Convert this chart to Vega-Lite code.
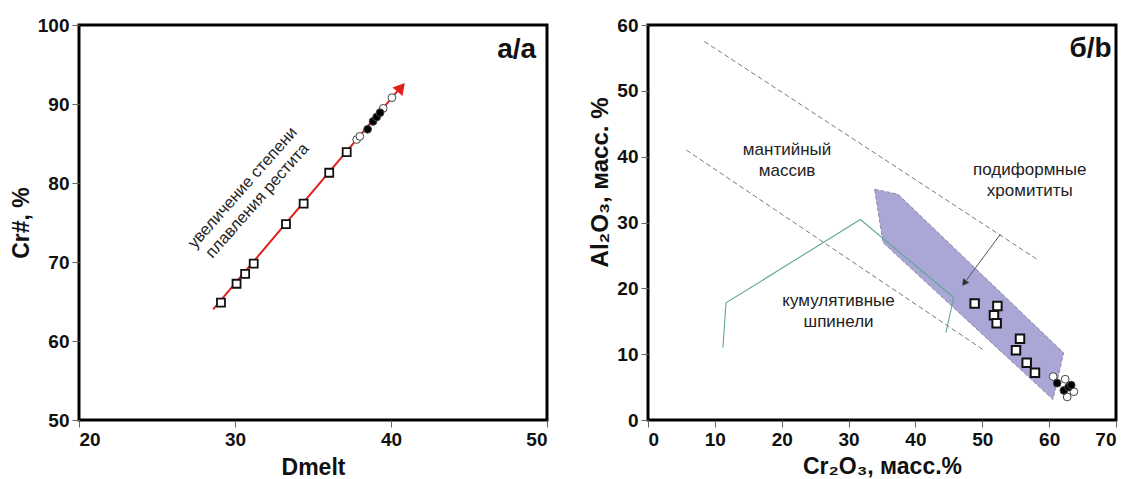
{
  "$schema": "https://vega.github.io/schema/vega-lite/v6.json",
  "background": "white",
  "padding": {"left": 8, "top": 14, "right": 5, "bottom": 0},
  "spacing": 38,
  "config": {
    "font": "Liberation Sans",
    "view": {"stroke": "black", "strokeWidth": 3},
    "axis": {"grid": false, "domain": false, "labelFont": "Liberation Sans", "labelFontWeight": "bold", "labelFontSize": 19, "labelColor": "#111", "titleFont": "Liberation Sans", "titleFontWeight": "bold", "titleFontSize": 23, "titleColor": "#111", "tickColor": "#666", "tickSize": 7, "tickWidth": 1, "labelPadding": 3, "titlePadding": 4}
  },
  "datasets": {
    "leftLine": [{"x": 28.6, "y": 64.0}, {"x": 40.4, "y": 91.6}],
    "leftHead": [{"x": 40.65, "y": 92.1}],
    "leftSquares": [
      {"x": 29.1, "y": 64.85}, {"x": 30.1, "y": 67.25}, {"x": 30.65, "y": 68.5}, {"x": 31.2, "y": 69.8},
      {"x": 33.27, "y": 74.8}, {"x": 34.4, "y": 77.4}, {"x": 36.04, "y": 81.3}, {"x": 37.16, "y": 83.9}
    ],
    "leftCircles": [
      {"x": 37.8, "y": 85.5, "kind": "open"}, {"x": 38.0, "y": 85.9, "kind": "open"},
      {"x": 39.5, "y": 89.45, "kind": "open"}, {"x": 40.06, "y": 90.8, "kind": "open"},
      {"x": 38.5, "y": 86.8, "kind": "black"}, {"x": 38.85, "y": 87.8, "kind": "black"},
      {"x": 39.08, "y": 88.35, "kind": "black"}, {"x": 39.3, "y": 88.9, "kind": "black"}
    ],
    "leftNote": [{"x": 30.49, "y": 79.4, "label": "увеличение степени\nплавления рестита"}],
    "leftTag": [{"x": 49.3, "y": 95.8, "label": "a/a"}],
    "poly": [
      {"x": 33.9, "y": 35.06, "o": 1}, {"x": 37.4, "y": 34.3, "o": 2}, {"x": 62.17, "y": 10.2, "o": 3},
      {"x": 60.57, "y": 3.12, "o": 4}, {"x": 35.15, "y": 26.95, "o": 5}
    ],
    "dashed": [
      {"x": 8.43, "y": 57.5, "id": "a"}, {"x": 58.2, "y": 24.4, "id": "a"},
      {"x": 5.74, "y": 41.0, "id": "b"}, {"x": 50.1, "y": 10.7, "id": "b"}
    ],
    "green": [
      {"x": 11.2, "y": 11.0, "o": 1}, {"x": 11.67, "y": 17.8, "o": 2}, {"x": 31.77, "y": 30.45, "o": 3},
      {"x": 45.72, "y": 18.6, "o": 4}, {"x": 44.57, "y": 13.26, "o": 5}
    ],
    "pointer": [{"x": 52.7, "y": 28.2}, {"x": 47.6, "y": 21.2}],
    "pointerHead": [{"x": 47.3, "y": 20.8}],
    "rightSquares": [
      {"x": 48.86, "y": 17.7}, {"x": 52.26, "y": 17.3}, {"x": 51.75, "y": 15.9}, {"x": 52.15, "y": 14.7},
      {"x": 55.64, "y": 12.35}, {"x": 55.04, "y": 10.6}, {"x": 56.64, "y": 8.7}, {"x": 57.88, "y": 7.17}
    ],
    "rightCircles": [
      {"x": 60.6, "y": 6.6, "kind": "open"}, {"x": 62.4, "y": 6.2, "kind": "open"},
      {"x": 63.7, "y": 4.3, "kind": "open"}, {"x": 62.7, "y": 3.5, "kind": "open"},
      {"x": 61.2, "y": 5.6, "kind": "black"}, {"x": 62.2, "y": 4.5, "kind": "black"},
      {"x": 62.9, "y": 5.0, "kind": "black"}, {"x": 63.3, "y": 5.3, "kind": "black"}
    ],
    "rightNotes": [
      {"x": 20.8, "y": 41.03, "label": "мантийный\nмассив"},
      {"x": 57.1, "y": 37.95, "label": "подиформные\nхромититы"},
      {"x": 28.5, "y": 18.07, "label": "кумулятивные\nшпинели"}
    ],
    "rightTag": [{"x": 69.35, "y": 55.1, "label": "б/b"}]
  },
  "hconcat": [
    {
      "width": 468,
      "height": 395,
      "layer": [
        {
          "data": {"name": "leftLine"},
          "mark": {"type": "line", "color": "#e0201b", "strokeWidth": 2},
          "encoding": {
            "x": {"field": "x", "type": "quantitative", "scale": {"domain": [20, 50], "nice": false}, "axis": {"values": [20, 30, 40, 50], "title": "Dmelt", "titlePadding": 7}},
            "y": {"field": "y", "type": "quantitative", "scale": {"domain": [50, 100], "nice": false}, "axis": {"values": [50, 60, 70, 80, 90, 100], "title": "Cr#, %"}}
          }
        },
        {
          "data": {"name": "leftHead"},
          "mark": {"type": "point", "shape": "triangle-up", "filled": true, "color": "#e0201b", "opacity": 1, "size": 170, "angle": 40},
          "encoding": {"x": {"field": "x", "type": "quantitative"}, "y": {"field": "y", "type": "quantitative"}}
        },
        {
          "data": {"name": "leftSquares"},
          "mark": {"type": "point", "shape": "square", "filled": true, "fill": "white", "stroke": "#111", "strokeWidth": 1.8, "opacity": 1, "size": 64},
          "encoding": {"x": {"field": "x", "type": "quantitative"}, "y": {"field": "y", "type": "quantitative"}}
        },
        {
          "data": {"name": "leftCircles"},
          "mark": {"type": "point", "shape": "circle", "filled": true, "stroke": "#444", "strokeWidth": 1, "opacity": 1, "size": 60},
          "encoding": {
            "x": {"field": "x", "type": "quantitative"},
            "y": {"field": "y", "type": "quantitative"},
            "fill": {"field": "kind", "type": "nominal", "scale": {"domain": ["open", "black"], "range": ["white", "black"]}, "legend": null}
          }
        },
        {
          "data": {"name": "leftNote"},
          "mark": {"type": "text", "angle": 311.5, "fontSize": 16.5, "lineBreak": "\n", "lineHeight": 19.5, "align": "center", "baseline": "middle", "color": "#222"},
          "encoding": {"x": {"field": "x", "type": "quantitative"}, "y": {"field": "y", "type": "quantitative"}, "text": {"field": "label"}}
        },
        {
          "data": {"name": "leftTag"},
          "mark": {"type": "text", "fontSize": 28, "fontWeight": "bold", "align": "right", "baseline": "alphabetic", "color": "#111"},
          "encoding": {"x": {"field": "x", "type": "quantitative"}, "y": {"field": "y", "type": "quantitative"}, "text": {"field": "label"}}
        }
      ]
    },
    {
      "width": 468,
      "height": 395,
      "layer": [
        {
          "data": {"name": "poly"},
          "mark": {"type": "line", "interpolate": "linear-closed", "fill": "#aaa6d5", "stroke": "#7a7898", "strokeWidth": 0.8, "strokeDash": [4, 2]},
          "encoding": {
            "x": {"field": "x", "type": "quantitative", "scale": {"domain": [0, 70], "nice": false}, "axis": {"values": [0, 10, 20, 30, 40, 50, 60, 70], "title": "Cr₂O₃, масс.%", "titlePadding": 6}},
            "y": {"field": "y", "type": "quantitative", "scale": {"domain": [0, 60], "nice": false}, "axis": {"values": [0, 10, 20, 30, 40, 50, 60], "title": "Al₂O₃, масс. %", "titleFontSize": 24, "titleY": 157}},
            "order": {"field": "o", "type": "quantitative"}
          }
        },
        {
          "data": {"name": "dashed"},
          "mark": {"type": "line", "color": "#6a6a6a", "strokeWidth": 0.9, "strokeDash": [5, 3]},
          "encoding": {"x": {"field": "x", "type": "quantitative"}, "y": {"field": "y", "type": "quantitative"}, "detail": {"field": "id", "type": "nominal"}}
        },
        {
          "data": {"name": "green"},
          "mark": {"type": "line", "color": "#5fa898", "strokeWidth": 1.1},
          "encoding": {"x": {"field": "x", "type": "quantitative"}, "y": {"field": "y", "type": "quantitative"}, "order": {"field": "o", "type": "quantitative"}}
        },
        {
          "data": {"name": "pointer"},
          "mark": {"type": "line", "color": "#555", "strokeWidth": 1},
          "encoding": {"x": {"field": "x", "type": "quantitative"}, "y": {"field": "y", "type": "quantitative"}}
        },
        {
          "data": {"name": "pointerHead"},
          "mark": {"type": "point", "shape": "triangle-up", "filled": true, "color": "#333", "opacity": 1, "size": 55, "angle": 216},
          "encoding": {"x": {"field": "x", "type": "quantitative"}, "y": {"field": "y", "type": "quantitative"}}
        },
        {
          "data": {"name": "rightSquares"},
          "mark": {"type": "point", "shape": "square", "filled": true, "fill": "white", "stroke": "#111", "strokeWidth": 2, "opacity": 1, "size": 72},
          "encoding": {"x": {"field": "x", "type": "quantitative"}, "y": {"field": "y", "type": "quantitative"}}
        },
        {
          "data": {"name": "rightCircles"},
          "mark": {"type": "point", "shape": "circle", "filled": true, "stroke": "#444", "strokeWidth": 1, "opacity": 1, "size": 60},
          "encoding": {
            "x": {"field": "x", "type": "quantitative"},
            "y": {"field": "y", "type": "quantitative"},
            "fill": {"field": "kind", "type": "nominal", "scale": {"domain": ["open", "black"], "range": ["white", "black"]}, "legend": null}
          }
        },
        {
          "data": {"name": "rightNotes"},
          "mark": {"type": "text", "fontSize": 17, "lineBreak": "\n", "lineHeight": 21, "align": "center", "baseline": "middle", "color": "#222"},
          "encoding": {"x": {"field": "x", "type": "quantitative"}, "y": {"field": "y", "type": "quantitative"}, "text": {"field": "label"}}
        },
        {
          "data": {"name": "rightTag"},
          "mark": {"type": "text", "fontSize": 28, "fontWeight": "bold", "align": "right", "baseline": "alphabetic", "color": "#111"},
          "encoding": {"x": {"field": "x", "type": "quantitative"}, "y": {"field": "y", "type": "quantitative"}, "text": {"field": "label"}}
        }
      ]
    }
  ]
}
